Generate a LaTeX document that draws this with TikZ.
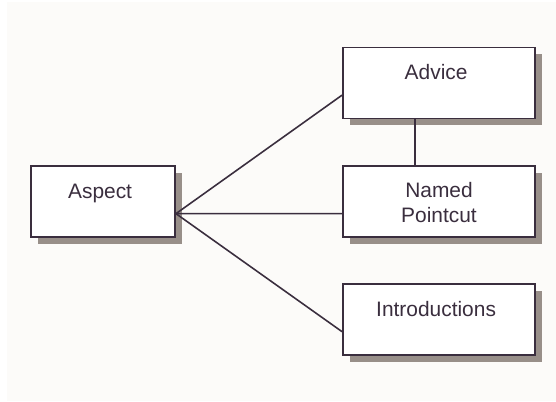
\documentclass[tikz,border=0pt]{standalone}
\usepackage{fontspec}
\setmainfont{Liberation Sans}
\usepackage{tikz}
\usetikzlibrary{shadows,calc}

\definecolor{inkcol}{RGB}{58,46,62}
\definecolor{shadowcol}{RGB}{152,143,137}
\definecolor{papercol}{RGB}{252,251,249}

\tikzset{
    part/.style={draw=inkcol, line width=1.1pt, fill=white, text=inkcol,
        minimum width=3.84cm, minimum height=1.42cm, inner sep=0pt, align=center,
        text height=0.64cm, text depth=0.78cm,
        drop shadow={shadow xshift=0.13cm, shadow yshift=-0.13cm, fill=shadowcol, opacity=1}},
    link/.style={draw=inkcol, line width=0.9pt}
}

\begin{document}
\begin{tikzpicture}[font=\fontsize{11.9}{13.9}\selectfont]
    \useasboundingbox (0,0) rectangle (11.12,8.02);
    \fill[white] (0,0) rectangle (11.12,8.02);
    \fill[papercol] (0.14,0) rectangle (11.12,7.98);

        \node[part, minimum width=2.88cm] (ASP) at (2.06,3.99) { Aspect };

        \node[part] (ADV) at (8.78,6.36) { Advice };
        \node[part, text height=1.128cm, text depth=0.292cm] (NPC) at (8.78,3.99) { Named\\Pointcut };
        \node[part] (INT) at (8.78,1.63) { Introductions };

        \draw[link] ($(ASP.south east)!1/3!(ASP.north east)$) -- ($(ADV.south west)!1/3!(ADV.north west)$);
        \draw[link] ($(ASP.south east)!1/3!(ASP.north east)$) -- ($(NPC.south west)!1/3!(NPC.north west)$);
        \draw[link] ($(ASP.south east)!1/3!(ASP.north east)$) -- ($(INT.south west)!1/3!(INT.north west)$);

        \draw[link] ($(ADV.south west)!0.377!(ADV.south east)$) -- ($(NPC.north west)!0.377!(NPC.north east)$);

\end{tikzpicture}
\end{document}
